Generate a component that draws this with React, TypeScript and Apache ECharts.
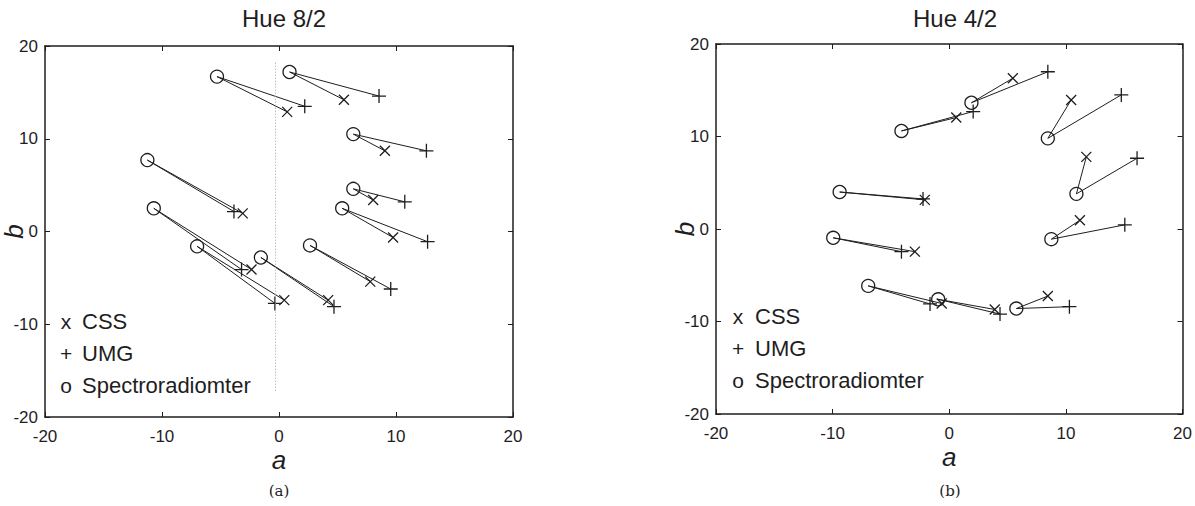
import React, { useEffect, useRef } from "react";
import * as echarts from "echarts";

// ---- Data (a, b) ----
const titles = ["Hue 8/2", "Hue 4/2"];
const captions = ["(a)", "(b)"];
const tickValues = [-20, -10, 0, 10, 20];
const legendLabels = ["CSS", "UMG", "Spectroradiomter"];
const legendSymbols = ["x", "+", "o"];

const spectroA = [[-5.3, 16.7], [0.9, 17.2], [6.35, 10.5], [-11.25, 7.7], [6.35, 4.6], [5.4, 2.5], [-10.7, 2.5], [-7.0, -1.6], [-1.55, -2.8], [2.65, -1.5]];
const cssA = [[0.7, 12.9], [5.55, 14.2], [9.05, 8.7], [-3.1, 1.95], [8.05, 3.4], [9.75, -0.65], [-2.35, -4.1], [0.45, -7.4], [4.2, -7.4], [7.8, -5.4]];
const umgA = [[2.2, 13.5], [8.55, 14.6], [12.6, 8.7], [-3.85, 2.15], [10.75, 3.2], [12.7, -1.1], [-3.2, -4.1], [-0.35, -7.75], [4.7, -8.1], [9.55, -6.2]];
const zeroLineA = [[-0.3, 18.2], [-0.3, -17.3]];

const spectroB = [[1.9, 13.65], [-4.1, 10.6], [8.45, 9.8], [10.9, 3.8], [-9.4, 4.0], [-9.95, -0.95], [8.75, -1.1], [-6.95, -6.15], [-0.95, -7.6], [5.75, -8.6]];
const cssB = [[5.45, 16.3], [0.6, 12.05], [10.45, 13.95], [11.75, 7.8], [-2.1, 3.15], [-2.95, -2.45], [11.2, 0.95], [-0.65, -8.05], [3.9, -8.7], [8.45, -7.25]];
const umgB = [[8.45, 17.0], [2.05, 12.7], [14.75, 14.5], [16.1, 7.65], [-2.25, 3.25], [-4.1, -2.45], [15.05, 0.45], [-1.65, -8.1], [4.35, -9.2], [10.3, -8.4]];

const panels = [
  { spectro: spectroA, css: cssA, umg: umgA },
  { spectro: spectroB, css: cssB, umg: umgB },
];

const INK = "#1e1e1e";
const FONT = "'Liberation Sans', Arial, sans-serif";
const PLUS = "path://M5,0L5,10M0,5L10,5";
const CROSS = "path://M0,0L10,10M0,10L10,0";

export default function App() {
  const ref = useRef<HTMLDivElement>(null);

  useEffect(() => {
    if (!ref.current) return;
    const chart = echarts.init(ref.current, undefined, { renderer: "svg" });

    const grids = [
      { left: 45, top: 46, width: 468, height: 371 },
      { left: 716, top: 44, width: 467, height: 370 },
    ];
    const centers = [279, 950];

    const axisCommon = {
      min: tickValues[0],
      max: tickValues[tickValues.length - 1],
      interval: tickValues[1] - tickValues[0],
      splitLine: { show: false },
      axisLine: { show: true, onZero: false, lineStyle: { color: INK, width: 1.5 } },
      axisTick: { show: true, inside: true, length: 5, lineStyle: { color: INK, width: 1 } },
    };

    const xAxis: any[] = [];
    const yAxis: any[] = [];
    grids.forEach((_, gi) => {
      xAxis.push({
        ...axisCommon,
        type: "value",
        gridIndex: gi,
        position: "bottom",
        axisLabel: { show: true, fontSize: 17, color: INK, fontFamily: FONT, margin: 11 },
        name: "a",
        nameLocation: "middle",
        nameGap: 30,
        nameMoveOverlap: false,
        nameTextStyle: { fontSize: 26, fontStyle: "italic", color: INK, fontFamily: FONT },
      });
      xAxis.push({
        ...axisCommon,
        type: "value",
        gridIndex: gi,
        position: "top",
        axisLabel: { show: false },
      });
      yAxis.push({
        ...axisCommon,
        type: "value",
        gridIndex: gi,
        position: "left",
        axisLabel: { show: true, fontSize: 17, color: INK, fontFamily: FONT, margin: 7 },
        name: "b",
        nameLocation: "middle",
        nameGap: 18,
        nameMoveOverlap: false,
        nameTextStyle: { fontSize: 26, fontStyle: "italic", color: INK, fontFamily: FONT },
      });
      yAxis.push({
        ...axisCommon,
        type: "value",
        gridIndex: gi,
        position: "right",
        axisLabel: { show: false },
      });
    });

    const series: any[] = [];
    panels.forEach((p, gi) => {
      const xi = gi * 2;
      const yi = gi * 2;
      series.push({
        type: "lines",
        coordinateSystem: "cartesian2d",
        xAxisIndex: xi,
        yAxisIndex: yi,
        polyline: true,
        silent: true,
        lineStyle: { color: INK, width: 1, opacity: 1 },
        data: p.spectro.map((c, i) => ({ coords: [p.css[i], c, p.umg[i]] })),
      });
      const sc = (data: number[][], symbol: string, size: number) => ({
        type: "scatter",
        xAxisIndex: xi,
        yAxisIndex: yi,
        symbol,
        symbolSize: size,
        silent: true,
        itemStyle: { color: "rgba(0,0,0,0)", borderColor: INK, borderWidth: 1.3, opacity: 1 },
        data,
      });
      series.push(sc(p.spectro, "circle", 13));
      series.push(sc(p.css, CROSS, 10));
      series.push(sc(p.umg, PLUS, 14));
    });
    series.push({
      type: "line",
      xAxisIndex: 0,
      yAxisIndex: 0,
      symbol: "none",
      silent: true,
      lineStyle: { color: "#a0a0a0", width: 1, type: [1, 2] },
      data: zeroLineA,
    });

    const graphic: any[] = [];
    const symbolX = [66, 738];
    const textX = [82, 755];
    const legendY = [[321, 353, 385], [316, 348, 380]];
    [0, 1].forEach((gi) => {
      legendLabels.forEach((lab, k) => {
        graphic.push({
          type: "text",
          x: symbolX[gi],
          y: legendY[gi][k],
          style: { text: legendSymbols[k], fontSize: 21, fontFamily: FONT, fill: INK, align: "center", verticalAlign: "middle" },
        });
        graphic.push({
          type: "text",
          x: textX[gi],
          y: legendY[gi][k],
          style: { text: lab, fontSize: 22, fontFamily: FONT, fill: INK, align: "left", verticalAlign: "middle" },
        });
      });
      graphic.push({
        type: "text",
        x: centers[gi],
        y: 491,
        style: { text: captions[gi], fontSize: 15, fontFamily: "'DejaVu Serif', 'Liberation Serif', serif", fill: INK, align: "center", verticalAlign: "middle" },
      });
    });

    chart.setOption({
      animation: false,
      backgroundColor: "#ffffff",
      title: titles.map((t, gi) => ({
        text: t,
        left: centers[gi],
        top: 1,
        textAlign: "center",
        textStyle: { fontSize: 24, fontWeight: "normal", color: INK, fontFamily: FONT },
      })),
      grid: grids,
      xAxis,
      yAxis,
      series,
      graphic,
    });

    return () => chart.dispose();
  }, []);

  return (
    <div
      ref={ref}
      style={{ position: "fixed", left: 0, top: 0, width: 1195, height: 506, background: "#fff" }}
    />
  );
}
